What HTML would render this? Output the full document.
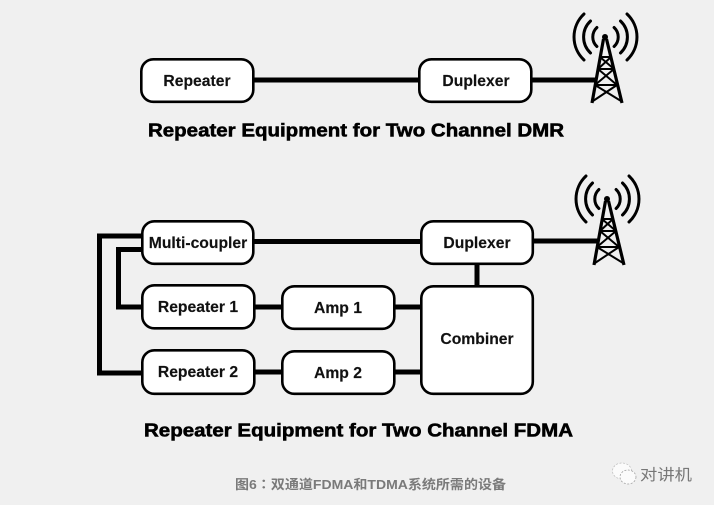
<!DOCTYPE html>
<html>
<head>
<meta charset="utf-8">
<style>
html,body{margin:0;padding:0;background:#f0f0f0;width:714px;height:505px;overflow:hidden}
svg{display:block}
text{font-family:"Liberation Sans","Noto Sans CJK SC",sans-serif}
.b{fill:#fff;stroke:#000;stroke-width:2.6}
.l{fill:none;stroke:#000;stroke-width:5}
.t{font-size:15.7px;font-weight:bold;text-anchor:middle;fill:#111;stroke:#111;stroke-width:.15}
.h{font-size:18px;font-weight:bold;fill:#000;stroke:#000;stroke-width:.55}
.a{fill:none;stroke:#000;stroke-width:3;stroke-linecap:round}
.w{fill:none;stroke:#000;stroke-width:2}
</style>
</head>
<body>
<svg width="714" height="505" viewBox="0 0 714 505" xmlns="http://www.w3.org/2000/svg">
<defs>
<g id="tower">
  <path class="a" d="M-8.1,-9.5A13,13 0 0 0 -8.1,9.5M9.1,-9.5A13,13 0 0 1 9.1,9.5"/>
  <path class="a" d="M-14.500,-16A22,22 0 0 0 -14.500,16M15.500,-16A22,22 0 0 1 15.500,16"/>
  <path class="a" d="M-21,-23A31.500,31.500 0 0 0 -21,23M22,-23A31.500,31.500 0 0 1 22,23"/>
  <circle cx="0" cy="0" r="3" fill="#000"/>
  <path d="M-1.5,2L-13,66M1.5,2L17,66" fill="none" stroke="#000" stroke-width="3.2"/>
  <path class="w" d="M-5,20H6M-7,32H9M-10,48H12M-12,64L12,48M16,64L-10,48M-10,48L9,32M12,48L-7,32M-7,32L6,20M9,32L-5,20"/>
</g>
</defs>
<rect width="714" height="505" fill="#f0f0f0"/>

<!-- top diagram -->
<path class="l" d="M253,80H419M531,80H597"/>
<rect class="b" x="141.300" y="59.300" width="112" height="42.500" rx="12"/>
<rect class="b" x="419.300" y="59.300" width="112" height="42.500" rx="12"/>
<text class="t" x="197" y="86">Repeater</text>
<text class="t" x="476" y="86">Duplexer</text>
<use href="#tower" x="605" y="37"/>
<text class="h" x="148" y="136.500" textLength="416" lengthAdjust="spacingAndGlyphs">Repeater Equipment for Two Channel DMR</text>

<!-- bottom diagram -->
<path class="l" d="M143,236H99.500V373H143M143,249.500H118.500V307H143"/>
<path class="l" d="M253,241.500H421M533,241H599M253,307H282M394,307H421M253,372H282M394,372H421M477,264V286"/>
<rect class="b" x="142.300" y="221.300" width="111" height="42.500" rx="12"/>
<rect class="b" x="142.300" y="285.300" width="112" height="43" rx="12"/>
<rect class="b" x="142.300" y="350.300" width="112" height="43.500" rx="12"/>
<rect class="b" x="282.300" y="286.300" width="112" height="42.500" rx="12"/>
<rect class="b" x="282.300" y="351.300" width="112" height="42.500" rx="12"/>
<rect class="b" x="421.300" y="221.300" width="111.500" height="42.500" rx="12"/>
<rect class="b" x="421.300" y="286.300" width="111.500" height="107.500" rx="12"/>
<text class="t" x="198" y="248">Multi-coupler</text>
<text class="t" x="198" y="312">Repeater 1</text>
<text class="t" x="198" y="377">Repeater 2</text>
<text class="t" x="338" y="313">Amp 1</text>
<text class="t" x="338" y="378">Amp 2</text>
<text class="t" x="477" y="248">Duplexer</text>
<text class="t" x="477" y="344">Combiner</text>
<use href="#tower" x="607" y="199"/>
<text class="h" x="144" y="436.500" textLength="429" lengthAdjust="spacingAndGlyphs">Repeater Equipment for Two Channel FDMA</text>

<!-- caption -->
<text x="235" y="489" font-size="13" font-weight="bold" fill="#7a7a7a" textLength="271" lengthAdjust="spacingAndGlyphs">图6<tspan font-family="'Noto Sans CJK TC',sans-serif">：</tspan>双通道FDMA和TDMA系统所需的设备</text>

<!-- watermark -->
<ellipse cx="622" cy="471" rx="9.500" ry="8" fill="#fbfbfb" stroke="#bbb" stroke-width=".7" stroke-dasharray="2 1.500"/>
<ellipse cx="628" cy="477" rx="8" ry="7" fill="#fbfbfb" stroke="#999" stroke-width=".7" stroke-dasharray="2 1.500"/>
<text x="640" y="480" font-size="15.500" fill="#777" textLength="52" lengthAdjust="spacingAndGlyphs">对讲机</text>
</svg>
</body>
</html>
